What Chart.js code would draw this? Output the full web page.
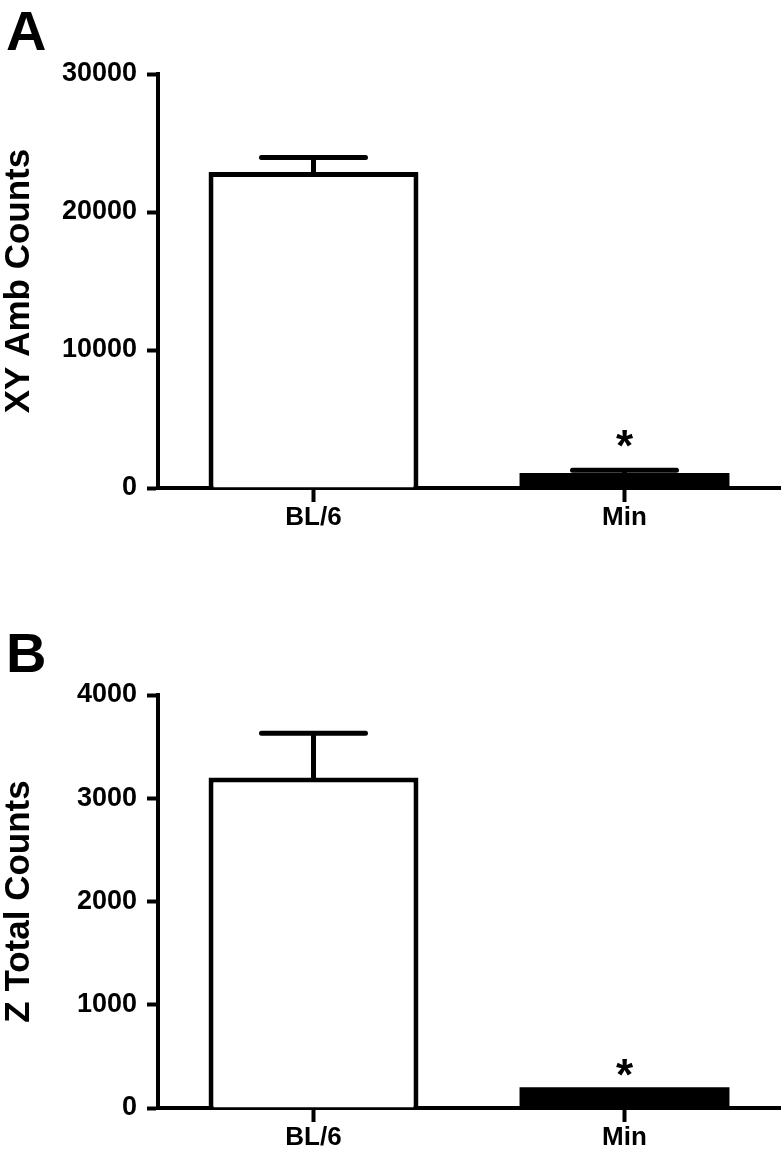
<!DOCTYPE html>
<html>
<head>
<meta charset="utf-8">
<script src="https://cdn.jsdelivr.net/npm/chart.js@4/dist/chart.umd.min.js"></script>
<style>
  html, body { margin: 0; padding: 0; background: #fff; }
  .panel { width: 784px; height: 582px; position: relative; }
  canvas { display: block; }
</style>
</head>
<body>
<div class="panel"><canvas id="chartA" width="784" height="582"></canvas></div>
<div class="panel"><canvas id="chartB" width="784" height="582"></canvas></div>
<script>
// Data (mean + one-sided SEM)
const categories = ["BL/6", "Min"];
const xyAmbMeans = [22900, 1090];
const xyAmbErrors = [1050, 200];
const zTotalMeans = [3200, 200];
const zTotalErrors = [430, 0];
const significance = ["", "*"];

const FONT = "'Liberation Sans', Arial, Helvetica, sans-serif";
Chart.defaults.font.family = FONT;
Chart.defaults.font.weight = "bold";
Chart.defaults.color = "#000";

// Draws the error bars, asterisks and the panel letter
const errorBarPlugin = {
  id: "errorBars",
  afterDatasetsDraw(chart, args, opts) {
    const ctx = chart.ctx;
    const meta = chart.getDatasetMeta(0);
    const yScale = chart.scales.y;
    ctx.save();
    ctx.strokeStyle = "#000";
    ctx.fillStyle = "#000";
    ctx.lineWidth = 5;
    ctx.lineCap = "round";
    meta.data.forEach((bar, i) => {
      const base = yScale.getPixelForValue(opts.means[i]);
      const top = yScale.getPixelForValue(opts.means[i] + opts.errors[i]);
      if (opts.errors[i] > 0) {
        ctx.beginPath();
        ctx.moveTo(bar.x, base);
        ctx.lineTo(bar.x, top);
        ctx.moveTo(bar.x - opts.capHalf, top);
        ctx.lineTo(bar.x + opts.capHalf, top);
        ctx.stroke();
      }
      if (opts.stars[i]) {
        ctx.font = "bold 44px " + FONT;
        ctx.textAlign = "center";
        ctx.textBaseline = "alphabetic";
        ctx.fillText(opts.stars[i], bar.x, top - opts.starGap + 21);
      }
    });
    ctx.font = "bold 56px " + FONT;
    ctx.textAlign = "left";
    ctx.textBaseline = "alphabetic";
    ctx.fillText(opts.letter, 6, opts.letterY);
    ctx.restore();
  }
};

function makeChart(id, means, errors, yTitle, yMax, yStep, pad, letter, letterY, starGap) {
  return new Chart(document.getElementById(id), {
    type: "bar",
    data: {
      labels: categories,
      datasets: [{
        data: means,
        backgroundColor: ["#fff", "#000"],
        borderColor: "#000",
        borderWidth: [5, 0],
        borderSkipped: "start",
        barPercentage: 0.675,
        categoryPercentage: 1
      }]
    },
    options: {
      responsive: false,
      animation: false,
      layout: { padding: pad },
      plugins: {
        legend: { display: false },
        tooltip: { enabled: false },
        errorBars: {
          means: means, errors: errors, stars: significance,
          capHalf: 52, starGap: starGap, letter: letter, letterY: letterY
        }
      },
      scales: {
        x: {
          afterFit: s => { s.height = 50; },
          grid: { drawOnChartArea: false, offset: false, tickLength: 14, tickWidth: 4, color: "#000" },
          border: { color: "#000", width: 4 },
          ticks: { padding: 3, font: { size: 26, lineHeight: 1 } }
        },
        y: {
          min: 0,
          max: yMax,
          afterFit: s => { s.width = 158; },
          grid: { drawOnChartArea: false, tickLength: 11, tickWidth: 4, color: "#000" },
          border: { color: "#000", width: 4 },
          ticks: {
            stepSize: yStep,
            padding: 10,
            font: { size: 27 },
            callback: v => String(v)
          },
          title: {
            display: true,
            text: yTitle,
            font: { size: 35, lineHeight: 1 },
            padding: { top: 2, bottom: 0 }
          }
        }
      }
    },
    plugins: [errorBarPlugin]
  });
}

makeChart("chartA", xyAmbMeans, xyAmbErrors, "XY Amb Counts", 30000, 10000,
  { top: 74, right: 4, bottom: 44, left: 0 }, "A", 50, 30);
makeChart("chartB", zTotalMeans, zTotalErrors, "Z Total Counts", 4000, 1000,
  { top: 113, right: 4, bottom: 6, left: 0 }, "B", 90, 18);
</script>
</body>
</html>
